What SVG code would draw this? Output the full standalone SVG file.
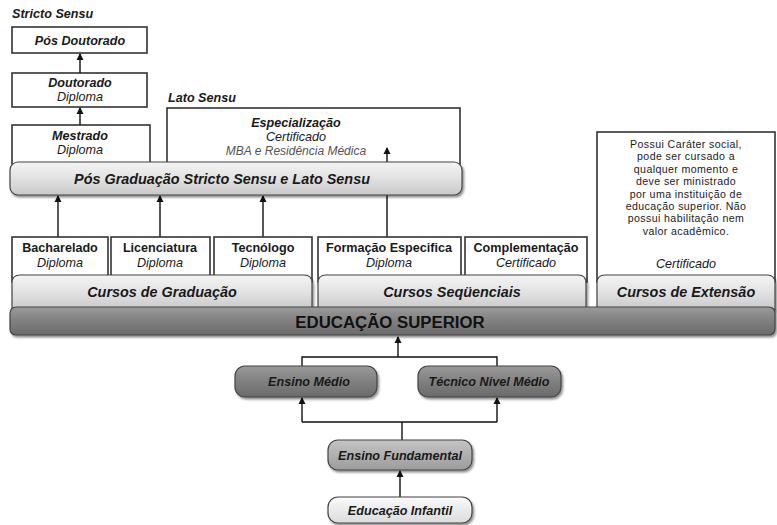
<svg xmlns="http://www.w3.org/2000/svg" width="777" height="525" viewBox="0 0 777 525">
<defs>
<linearGradient id="gLight" x1="0" y1="0" x2="0" y2="1">
<stop offset="0" stop-color="#f4f4f4"/><stop offset="0.5" stop-color="#e2e2e2"/><stop offset="1" stop-color="#c8c8c8"/>
</linearGradient>
<linearGradient id="gDark" x1="0" y1="0" x2="0" y2="1">
<stop offset="0" stop-color="#9a9a9a"/><stop offset="0.5" stop-color="#808080"/><stop offset="1" stop-color="#6a6a6a"/>
</linearGradient>
<linearGradient id="gMid" x1="0" y1="0" x2="0" y2="1">
<stop offset="0" stop-color="#c4c4c4"/><stop offset="1" stop-color="#9c9c9c"/>
</linearGradient>
<linearGradient id="gPale" x1="0" y1="0" x2="0" y2="1">
<stop offset="0" stop-color="#fafafa"/><stop offset="1" stop-color="#dcdcdc"/>
</linearGradient>
<filter id="sh" x="-5%" y="-20%" width="110%" height="150%">
<feDropShadow dx="1.5" dy="2" stdDeviation="1.2" flood-color="#000" flood-opacity="0.45"/>
</filter>
<marker id="ah" markerWidth="8" markerHeight="8" refX="6" refY="4" orient="auto" markerUnits="userSpaceOnUse">
<path d="M0,0.5 L7,4 L0,7.5 Z" fill="#111"/>
</marker>
</defs>
<style>
text{font-family:"Liberation Sans",Arial,sans-serif;fill:#1a1a1a;text-anchor:middle}
.bi{font-weight:bold;font-style:italic;font-size:12.6px}
.b{font-weight:bold;font-size:12.6px}
.i{font-style:italic;font-size:12.6px}
.r{font-size:10.6px;letter-spacing:0.4px}
.lbl{text-anchor:start}
.bar{font-weight:bold;font-style:italic;font-size:14.4px}
.box{fill:#fff;stroke:#333;stroke-width:1.6}
.lb{fill:url(#gLight);stroke:#444;stroke-width:1.2;filter:url(#sh)}
.con{stroke:#111;stroke-width:1.4;fill:none}
.arr{stroke:#111;stroke-width:1.4;fill:none;marker-end:url(#ah)}
</style>
<rect width="777" height="525" fill="#fff"/>

<g id="stricto-label"><text class="bi lbl" x="12" y="18">Stricto Sensu</text></g>
<g id="pos-doutorado"><rect class="box" x="12" y="27" width="135" height="26"/><text class="bi" x="80" y="45">Pós Doutorado</text></g>
<g id="doutorado"><rect class="box" x="12" y="73" width="135" height="34"/><text class="bi" x="80" y="87">Doutorado</text><text class="i" x="80" y="101">Diploma</text></g>
<g id="mestrado"><rect class="box" x="12" y="125" width="138" height="45"/><text class="bi" x="80" y="140">Mestrado</text><text class="i" x="80" y="154">Diploma</text></g>
<g id="lato-label"><text class="bi lbl" x="168" y="102">Lato Sensu</text></g>
<g id="especializacao"><rect class="box" x="167" y="108" width="293" height="62"/><text class="bi" x="296" y="127">Especialização</text><text class="i" x="296" y="141">Certificado</text><text class="i" x="296" y="155" style="fill:#555;font-size:12px">MBA e Residência Médica</text></g>
<g id="extensao-box"><rect class="box" x="597" y="132" width="178" height="150"/>
<text class="r" x="686" y="148">Possui Caráter social,</text>
<text class="r" x="686" y="160.4">pode ser cursado a</text>
<text class="r" x="686" y="172.8">qualquer momento e</text>
<text class="r" x="686" y="185.2">deve ser ministrado</text>
<text class="r" x="686" y="197.6">por uma instituição de</text>
<text class="r" x="686" y="210">educação superior. Não</text>
<text class="r" x="686" y="222.4">possui habilitação nem</text>
<text class="r" x="686" y="234.8">valor acadêmico.</text>
<text class="i" x="686" y="268">Certificado</text></g>

<g id="connectors">
<line class="arr" x1="80" y1="73" x2="80" y2="54"/>
<line class="arr" x1="80" y1="125" x2="80" y2="108"/>
<line class="arr" x1="58" y1="237" x2="58" y2="196"/>
<line class="arr" x1="160" y1="237" x2="160" y2="196"/>
<line class="arr" x1="263" y1="237" x2="263" y2="196"/>
<line class="arr" x1="387" y1="237" x2="387" y2="148"/>
<line class="arr" x1="398" y1="357" x2="398" y2="337"/>
<path class="con" d="M302,366 V357 H497 V366"/>
<line class="arr" x1="302" y1="422" x2="302" y2="398"/>
<line class="arr" x1="497" y1="422" x2="497" y2="398"/>
<path class="con" d="M302,422 H497 M402,422 V440"/>
<line class="arr" x1="400" y1="497" x2="400" y2="471"/>
</g>

<g id="pos-graduacao"><rect class="lb" x="10" y="162" width="452" height="33" rx="8"/><text class="bar" x="222" y="184">Pós Graduação Stricto Sensu e Lato Sensu</text></g>

<g id="bacharelado"><rect class="box" x="12" y="237" width="96" height="45"/><text class="b" x="60" y="252">Bacharelado</text><text class="i" x="60" y="267">Diploma</text></g>
<g id="licenciatura"><rect class="box" x="111" y="237" width="99" height="45"/><text class="b" x="160" y="252">Licenciatura</text><text class="i" x="160" y="267">Diploma</text></g>
<g id="tecnologo"><rect class="box" x="214" y="237" width="98" height="45"/><text class="b" x="263" y="252">Tecnólogo</text><text class="i" x="263" y="267">Diploma</text></g>
<g id="formacao"><rect class="box" x="318" y="237" width="143" height="45"/><text class="b" x="389" y="252">Formação Especifica</text><text class="i" x="389" y="267">Diploma</text></g>
<g id="complementacao"><rect class="box" x="465" y="237" width="122" height="45"/><text class="b" x="526" y="252">Complementação</text><text class="i" x="526" y="267">Certificado</text></g>

<g id="cursos-graduacao"><path class="lb" d="M12,310 V283 Q12,275 20,275 H304 Q312,275 312,283 V310 Z"/><text class="bar" x="162" y="297">Cursos de Graduação</text></g>
<g id="cursos-sequenciais"><path class="lb" d="M318,310 V283 Q318,275 326,275 H578 Q586,275 586,283 V310 Z"/><text class="bar" x="452" y="297">Cursos Seqüenciais</text></g>
<g id="cursos-extensao"><path class="lb" d="M597,310 V283 Q597,275 605,275 H767 Q775,275 775,283 V310 Z"/><text class="bar" x="686" y="297">Cursos de Extensão</text></g>

<g id="educacao-superior"><rect x="10" y="307" width="765" height="28" rx="6" fill="url(#gDark)" stroke="#444" stroke-width="1.2" filter="url(#sh)"/><text x="390" y="328" style="font-weight:bold;font-size:16.8px;fill:#111">EDUCAÇÃO SUPERIOR</text></g>

<g id="ensino-medio"><rect x="235" y="366" width="142" height="31" rx="10" fill="url(#gDark)" stroke="#444" stroke-width="1.2" filter="url(#sh)"/><text class="bi" x="309" y="386">Ensino Médio</text></g>
<g id="tecnico-nivel-medio"><rect x="418" y="366" width="143" height="31" rx="10" fill="url(#gDark)" stroke="#444" stroke-width="1.2" filter="url(#sh)"/><text class="bi" x="489" y="386">Técnico Nivel Médio</text></g>
<g id="ensino-fundamental"><rect x="328" y="440" width="144" height="30" rx="10" fill="url(#gMid)" stroke="#444" stroke-width="1.2" filter="url(#sh)"/><text class="bi" x="400" y="460">Ensino Fundamental</text></g>
<g id="educacao-infantil"><rect x="328" y="497" width="144" height="26" rx="10" fill="url(#gPale)" stroke="#444" stroke-width="1.2" filter="url(#sh)"/><text class="bi" x="400" y="515">Educação Infantil</text></g>
</svg>
